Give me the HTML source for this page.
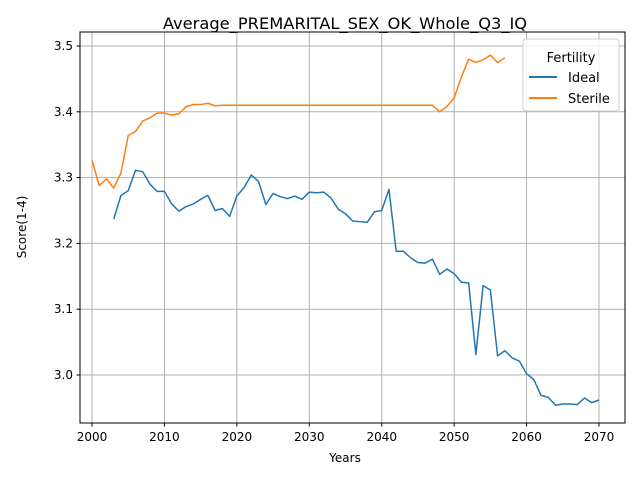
<!DOCTYPE html>
<html><head><meta charset="utf-8"><style>
body{margin:0;background:#fff;font-family:"Liberation Sans","DejaVu Sans",sans-serif}
</style></head><body>
<svg id="c" width="640" height="480" xmlns="http://www.w3.org/2000/svg" style="font-family:'DejaVu Sans','Liberation Sans',sans-serif">
<rect width="640" height="480" fill="#fff"/>
<text x="345" y="29" font-size="16.3" text-anchor="middle">Average_PREMARITAL_SEX_OK_Whole_Q3_IQ</text>
<g id="grid"></g><g id="ticks"></g><g id="lines"></g>
<rect x="80" y="32" width="545" height="391" fill="none" stroke="#000" stroke-width="1"/>
<text x="345" y="462" font-size="12" text-anchor="middle">Years</text>
<text x="26" y="227" font-size="12" text-anchor="middle" transform="rotate(-90 26 227)">Score(1-4)</text>
<g>
<rect x="523" y="39" width="96" height="72" rx="3" fill="#fff" fill-opacity="0.8" stroke="#ccc"/>
<text x="571" y="62" font-size="13" text-anchor="middle">Fertility</text>
<line x1="529" y1="77" x2="557" y2="77" stroke="#1f77b4" stroke-width="2"/>
<text x="568" y="82" font-size="13">Ideal</text>
<line x1="529" y1="98" x2="557" y2="98" stroke="#ff7f0e" stroke-width="2"/>
<text x="568" y="103" font-size="13">Sterile</text>
</g>
</svg>
<script>
const xTicks=[2000,2010,2020,2030,2040,2050,2060,2070];
const yTicks=[3.0,3.1,3.2,3.3,3.4,3.5];
const idealStart=2003;
const idealValues=[3.237,3.273,3.280,3.311,3.309,3.290,3.279,3.279,3.260,3.249,3.256,3.260,3.267,3.273,3.250,3.253,3.241,3.272,3.285,3.304,3.294,3.259,3.276,3.271,3.268,3.272,3.267,3.278,3.277,3.278,3.269,3.252,3.245,3.234,3.233,3.232,3.248,3.250,3.282,3.188,3.188,3.178,3.171,3.170,3.176,3.153,3.161,3.154,3.141,3.140,3.031,3.136,3.129,3.029,3.037,3.026,3.021,3.002,2.993,2.969,2.966,2.954,2.956,2.956,2.955,2.965,2.958,2.962];
const sterileStart=2000;
const sterileValues=[3.326,3.288,3.298,3.284,3.307,3.364,3.370,3.386,3.391,3.398,3.398,3.395,3.397,3.408,3.411,3.411,3.413,3.409,3.410,3.410,3.410,3.410,3.410,3.410,3.410,3.410,3.410,3.410,3.410,3.410,3.410,3.410,3.410,3.410,3.410,3.410,3.410,3.410,3.410,3.410,3.410,3.410,3.410,3.410,3.410,3.410,3.410,3.410,3.400,3.408,3.421,3.453,3.480,3.475,3.479,3.486,3.475,3.482];
const NS="http://www.w3.org/2000/svg";
const xs=v=>92+(v-2000)*(507/70);
const ys=v=>375-(v-3.0)*658;
const grid=document.getElementById('grid'),ticks=document.getElementById('ticks'),lines=document.getElementById('lines');
function mk(tag,attrs,parent){const e=document.createElementNS(NS,tag);for(const k in attrs)e.setAttribute(k,attrs[k]);parent.appendChild(e);return e;}
xTicks.forEach(t=>{
  const gl=mk('line',{x1:xs(t),x2:xs(t),y1:32,y2:423,stroke:'#b0b0b0','stroke-width':1},grid);
  
  
  mk('line',{x1:xs(t),x2:xs(t),y1:423,y2:426.5,stroke:'#000'},ticks);
  const tx=mk('text',{x:xs(t),y:441,'font-size':12,'text-anchor':'middle'},ticks);tx.textContent=t;
  
  
});
yTicks.forEach(t=>{
  const gl=mk('line',{x1:80,x2:625,y1:ys(t),y2:ys(t),stroke:'#b0b0b0','stroke-width':1},grid);
  
  
  mk('line',{x1:76.5,x2:80,y1:ys(t),y2:ys(t),stroke:'#000'},ticks);
  const tx=mk('text',{x:73,y:ys(t)+4,'font-size':12,'text-anchor':'end'},ticks);tx.textContent=t.toFixed(1);
  
  
});
function series(start,vals,color,name){
  const p=vals.map((v,i)=>xs(start+i).toFixed(2)+','+ys(v).toFixed(2)).join(' ');
  const pl=mk('polyline',{points:p,fill:'none',stroke:color,'stroke-width':1.5,'stroke-linejoin':'round'},lines);
  
  
}
series(idealStart,idealValues,'#1f77b4','ideal-line');
series(sterileStart,sterileValues,'#ff7f0e','sterile-line');
</script>
</body></html>
